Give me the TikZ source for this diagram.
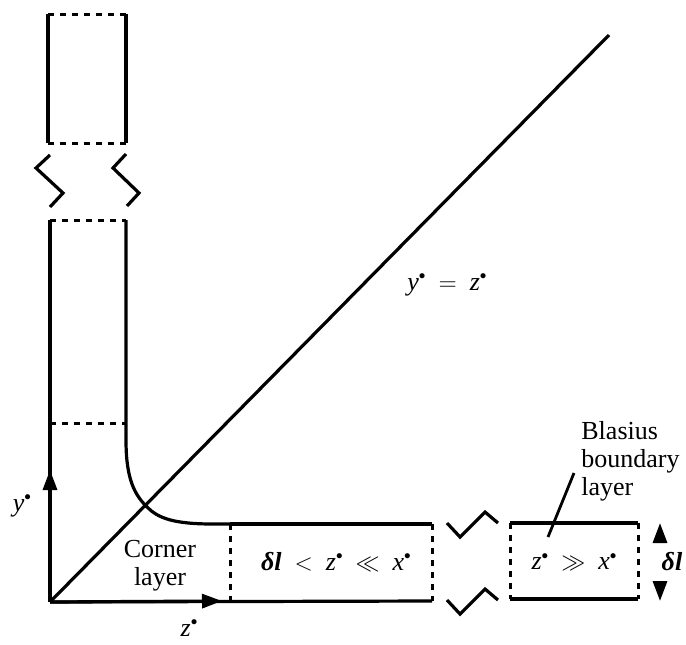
\documentclass[tikz,border=0pt]{standalone}
\usepackage{fontspec}
\setmainfont{Liberation Serif}
\usetikzlibrary{arrows.meta}
\newcommand{\st}{\raisebox{0.9ex}{\scalebox{0.55}{$\bullet$}}}

\begin{document}
\begin{tikzpicture}[x=0.5pt, y=-0.5pt, >={Triangle[length=10pt,width=7pt]},
    wall/.style={line width=1.6pt},
    cut/.style={line width=1.5pt, dash pattern=on 3.2pt off 2.8pt},
    lbl/.style={font=\fontsize{13}{14}\selectfont, inner sep=0pt}]
  \useasboundingbox (0,0) rectangle (686,644);
  \coordinate (O) at (50,602);

  % top piece of the vertical layer
  \draw[wall] (48,14) -- (48,143);
  \draw[wall] (126,14) -- (126,143);
  \draw[cut] (48,14) -- (126,14);
  \draw[cut] (48,143) -- (126,143);
  \draw[wall] (50,155) -- (36,168) -- (63,193) -- (50,207);
  \draw[wall] (126,154) -- (113,168) -- (139,193) -- (127,206);

  % lower vertical layer and curve
  \draw[cut] (50,220) -- (126,220);
  \draw[cut] (50,423) -- (126,423);
  \draw[wall] (126,220) -- (126,440)
    .. controls (126,480) and (135,495) .. (147,507)
    .. controls (158,518) and (173,524) .. (213,524) -- (230,524);

  % axes
  \draw[wall] (O) -- (50,220);
  \draw[wall] (O) -- (432,601);
  \draw[wall,->] (O) -- (50,470);
  \draw[wall,->] (O) -- (222,601);
  \draw[wall] (O) -- (609,35);

  % middle box
  \draw[cut] (230,524) -- (230,601);
  \draw[wall] (230,524) -- (432,524);
  \draw[cut] (432,524) -- (432,601);
  \draw[wall] (447,523) -- (460,537) -- (485,512) -- (498,523);
  \draw[wall] (447,600) -- (460,614) -- (485,589) -- (498,600);

  % Blasius box
  \draw[wall] (510,523) -- (638,523);
  \draw[wall] (510,599) -- (638,599);
  \draw[cut] (510,523) -- (510,599);
  \draw[cut] (638,523) -- (638,599);
  \coordinate (up) at (660,523);
  \coordinate (dn) at (660,601);
  \draw[wall,->] (660,542) -- (up);
  \draw[wall,->] (660,582) -- (dn);

  % labels
  \node[lbl] (ylab) at (22,506) {\textit{y}\st};
  \node[lbl] (zlab) at (189,628) {\textit{z}\st};
  \node[lbl] (diag) at (447,285) {\textit{y}\st\ \ $=$\ \ \textit{z}\st};
  \node[lbl, align=center] (corner) at (160,566) {Corner\\layer};
  \node[lbl] (mid) at (336,562) {\textbf{\textit{δl}}\ \ $<$\ \ \textit{z}\st\ \ $\ll$\ \ \textit{x}\st};
  \node[lbl] (far) at (574,562) {\textit{z}\st\ \ $\gg$\ \ \textit{x}\st};
  \node[lbl] (dl) at (672,562) {\textbf{\textit{δl}}};
  \node[lbl, align=left, anchor=west] (blas) at (581,461) {Blasius\\boundary\\layer};
  \coordinate (tip) at (548,537);
  \draw[line width=1.4pt] (574,473) -- (tip);
\end{tikzpicture}
\end{document}
